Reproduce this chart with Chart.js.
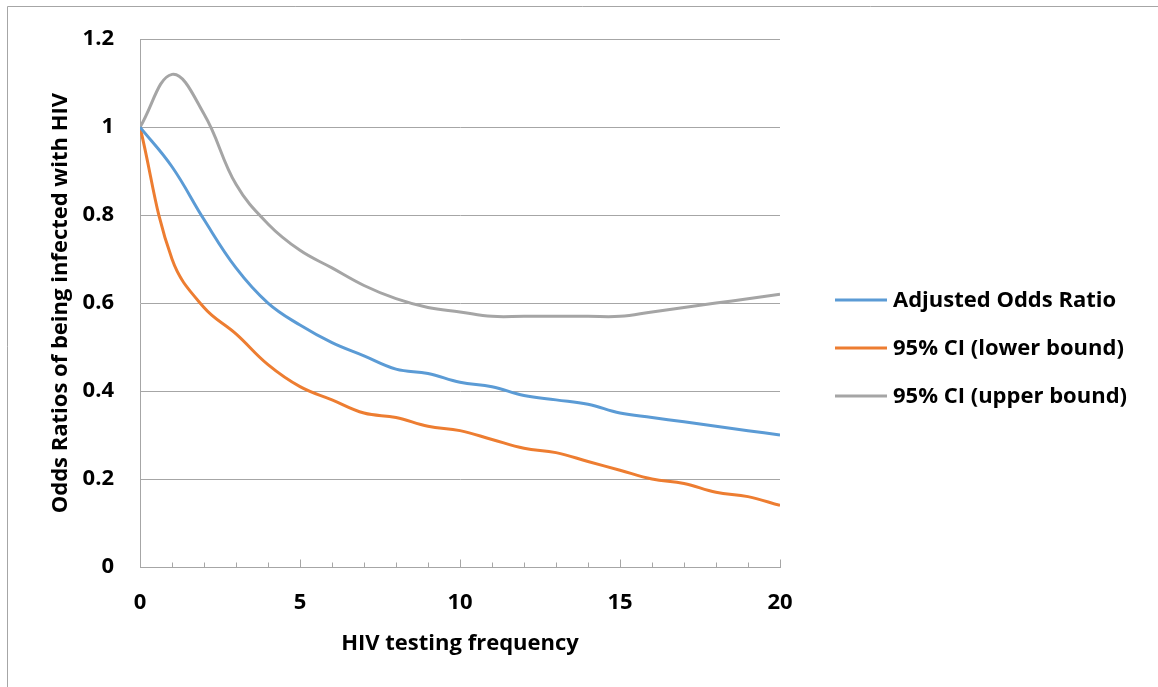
<!DOCTYPE html>
<html>
<head>
<meta charset="utf-8">
<script src="https://cdn.jsdelivr.net/npm/chart.js@4"></script>
<style>
  html, body { margin: 0; padding: 0; background: #fff; }
  #wrap { position: relative; width: 1158px; height: 687px; }
</style>
</head>
<body>
<div id="wrap"><canvas id="c" width="1158" height="687"></canvas></div>
<script>
// ---- data ----
const testingFrequency = [0,1,2,3,4,5,6,7,8,9,10,11,12,13,14,15,16,17,18,19,20];
const adjustedOddsRatio = [1.00,0.91,0.79,0.68,0.60,0.55,0.51,0.48,0.45,0.44,0.42,0.41,0.39,0.38,0.37,0.35,0.34,0.33,0.32,0.31,0.30];
const ciLower = [1.00,0.70,0.59,0.53,0.46,0.41,0.38,0.35,0.34,0.32,0.31,0.29,0.27,0.26,0.24,0.22,0.20,0.19,0.17,0.16,0.14];
const ciUpper = [1.00,1.12,1.03,0.87,0.78,0.72,0.68,0.64,0.61,0.59,0.58,0.57,0.57,0.57,0.57,0.57,0.58,0.59,0.60,0.61,0.62];
const seriesNames = ['Adjusted Odds Ratio', '95% CI (lower bound)', '95% CI (upper bound)'];
const xTickValues = [0,5,10,15,20];
const yTickLabels = ['0','0.2','0.4','0.6','0.8','1','1.2'];
const xTitle = 'HIV testing frequency';
const yTitle = 'Odds Ratios of being infected with HIV';

const FONT = "'Open Sans', Lato, sans-serif";
const FSIZE = 22;
const colors = ['#5B9BD5', '#ED7D31', '#A5A5A5'];
const gridColor = '#a6a6a6';

function pts(arr) { return testingFrequency.map((x, i) => ({x, y: arr[i]})); }

const decorPlugin = {
  id: 'decor',
  beforeDraw(chart) {
    const ctx = chart.ctx;
    ctx.save();
    ctx.strokeStyle = gridColor;
    ctx.lineWidth = 1;
    ctx.beginPath();
    ctx.moveTo(7.5, 687);
    ctx.lineTo(7.5, 6.5);
    ctx.lineTo(1158, 6.5);
    ctx.stroke();
    ctx.restore();
  },
  afterDraw(chart) {
    const ctx = chart.ctx;
    const xs = chart.scales.x;
    const yb = Math.round(chart.chartArea.bottom) + 0.5;
    ctx.save();
    ctx.strokeStyle = gridColor;
    ctx.lineWidth = 1;
    ctx.beginPath();
    testingFrequency.forEach(v => {
      const px = Math.round(xs.getPixelForValue(v)) + 0.5;
      const len = (v % 5 === 0) ? 8 : 5;
      ctx.moveTo(px, yb);
      ctx.lineTo(px, yb - len);
    });
    ctx.stroke();
    // legend
    const lx = 835, ly0 = 300, dy = 48;
    ctx.font = "bold " + FSIZE + "px " + FONT;
    ctx.textBaseline = 'middle';
    ctx.textAlign = 'left';
    chart.data.datasets.forEach((ds, i) => {
      const y = ly0 + i * dy;
      ctx.strokeStyle = ds.borderColor;
      ctx.lineWidth = 3;
      ctx.beginPath();
      ctx.moveTo(lx, y);
      ctx.lineTo(lx + 52, y);
      ctx.stroke();
      ctx.fillStyle = '#000';
      ctx.fillText(ds.label, lx + 58, y + 1);
    });
    ctx.restore();
  }
};

const tickFont = { family: FONT, size: FSIZE, weight: 'bold' };

new Chart(document.getElementById('c'), {
  type: 'line',
  data: {
    datasets: [
      { label: seriesNames[0], data: pts(adjustedOddsRatio), borderColor: colors[0], backgroundColor: colors[0] },
      { label: seriesNames[1], data: pts(ciLower), borderColor: colors[1], backgroundColor: colors[1] },
      { label: seriesNames[2], data: pts(ciUpper), borderColor: colors[2], backgroundColor: colors[2] }
    ]
  },
  options: {
    responsive: false,
    animation: false,
    devicePixelRatio: 1,
    layout: { padding: { left: 8, top: 36, right: 378, bottom: 0 } },
    elements: {
      line: { borderWidth: 3, tension: 0.4, cubicInterpolationMode: 'default' },
      point: { radius: 0, hoverRadius: 0 }
    },
    plugins: { legend: { display: false }, tooltip: { enabled: false } },
    scales: {
      x: {
        type: 'linear', min: 0, max: 20,
        afterBuildTicks(s) { s.ticks = xTickValues.map(v => ({value: v})); },
        afterFit(s) { s.height = 120; },
        grid: { display: false, drawTicks: false },
        border: { display: true, color: gridColor, width: 1 },
        ticks: { padding: 23, color: '#000', font: tickFont, maxRotation: 0 },
        title: { display: true, text: xTitle, color: '#000', font: tickFont, padding: { top: 0, bottom: 30 } }
      },
      y: {
        min: 0, max: 1.2,
        afterBuildTicks(s) { s.ticks = yTickLabels.map(t => ({value: parseFloat(t)})); },
        afterFit(s) { s.width = 132; },
        grid: { color: gridColor, lineWidth: 1, drawTicks: false },
        border: { display: true, color: gridColor, width: 1 },
        ticks: {
          padding: 26, color: '#000', font: tickFont,
          callback: (v, i) => yTickLabels[i]
        },
        title: { display: true, text: yTitle, color: '#000', font: tickFont, padding: { top: 40, bottom: 0 } }
      }
    }
  },
  plugins: [decorPlugin]
});
</script>
</body>
</html>
